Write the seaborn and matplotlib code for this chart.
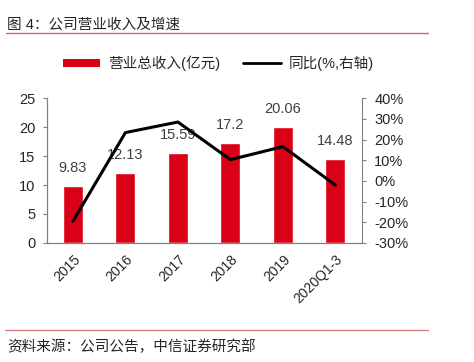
import numpy as np
import pandas as pd
import matplotlib
matplotlib.use("Agg")
import matplotlib.pyplot as plt
import seaborn as sns
from matplotlib.lines import Line2D
from matplotlib.patches import Patch

# 数据
years = ["2015", "2016", "2017", "2018", "2019", "2020Q1-3"]
revenue = [9.83, 12.13, 15.59, 17.2, 20.06, 14.48]   # 营业总收入(亿元)
growth = [-19.5, 23.4, 28.5, 10.3, 16.6, -2.0]       # 同比(%)
left_ticks = [0, 5, 10, 15, 20, 25]
right_ticks = [-30, -20, -10, 0, 10, 20, 30, 40]

sns.set_style("white")
plt.rcParams['font.family'] = ['Liberation Sans', 'Noto Sans CJK SC', 'DejaVu Sans']

RED = "#DA0016"
GRAY = "#808080"

fig = plt.figure(figsize=(4.74, 3.62), dpi=100)
ax = fig.add_axes([0.0985, 0.329, 0.6645, 0.3995])

df = pd.DataFrame({"year": years, "revenue": revenue, "growth": growth})
sns.barplot(data=df, x="year", y="revenue", color=RED, saturation=1,
            width=0.38, ax=ax)

# 柱顶数值
for i, v in enumerate(revenue):
    ax.annotate(f"{v:g}", (i, v), xytext=(0, 8), textcoords="offset points",
                ha="center", va="bottom", fontsize=10.5, color="#404040")

ax.set_xlim(-0.5, len(years) - 0.5)
ax.set_ylim(left_ticks[0], left_ticks[-1])
ax.set_yticks(left_ticks)
ax.set_xlabel("")
ax.set_ylabel("")
ax.set_xticks(np.arange(len(years)))
ax.set_xticklabels(years, rotation=45, ha="right", rotation_mode="anchor", fontsize=10)
ax.set_xticks(np.arange(len(years) + 1) - 0.5, minor=True)
ax.tick_params(axis="x", which="major", length=0, pad=7)
ax.tick_params(axis="x", which="minor", length=4, color=GRAY, width=0.8, direction="out")
ax.tick_params(axis="y", length=3, color=GRAY, width=0.8, labelsize=10.5, direction="out", pad=5)

# 右轴同比
ax2 = ax.twinx()
sns.lineplot(x=np.arange(len(years)), y=growth, color="black", linewidth=2.2, ax=ax2)
ax2.set_ylim(right_ticks[0], right_ticks[-1])
ax2.set_yticks(right_ticks)
ax2.set_yticklabels([f"{t}%" for t in right_ticks])
ax2.tick_params(axis="y", length=3, color=GRAY, width=0.8, labelsize=10.5, direction="out", pad=6)
ax2.set_xlim(-0.5, len(years) - 0.5)

for a in (ax, ax2):
    a.spines["top"].set_visible(False)
    for s in ("left", "right", "bottom"):
        a.spines[s].set_color(GRAY)
        a.spines[s].set_linewidth(0.8)
ax.spines["right"].set_visible(False)

# 图例
handles = [Patch(facecolor=RED, edgecolor="none"),
           Line2D([0], [0], color="black", linewidth=2)]
fig.legend(handles, ["营业总收入(亿元)", "同比(%,右轴)"], loc="center",
           bbox_to_anchor=(0.46, 0.825), ncol=2, frameon=False, fontsize=10.5,
           handlelength=2.6, handleheight=0.5, columnspacing=1.6, handletextpad=0.5)

# 标题与来源
fig.text(0.015, 0.931, "图 4：公司营业收入及增速", fontsize=10.5, va="center", ha="left")
fig.add_artist(Line2D([0.013, 0.903], [0.909, 0.909], color="#E06060", linewidth=1))
fig.add_artist(Line2D([0.01, 0.903], [0.088, 0.088], color="#D98080", linewidth=1))
fig.text(0.015, 0.042, "资料来源：公司公告，中信证券研究部", fontsize=10.5, va="center", ha="left")

fig.savefig("out.png", dpi=100)
